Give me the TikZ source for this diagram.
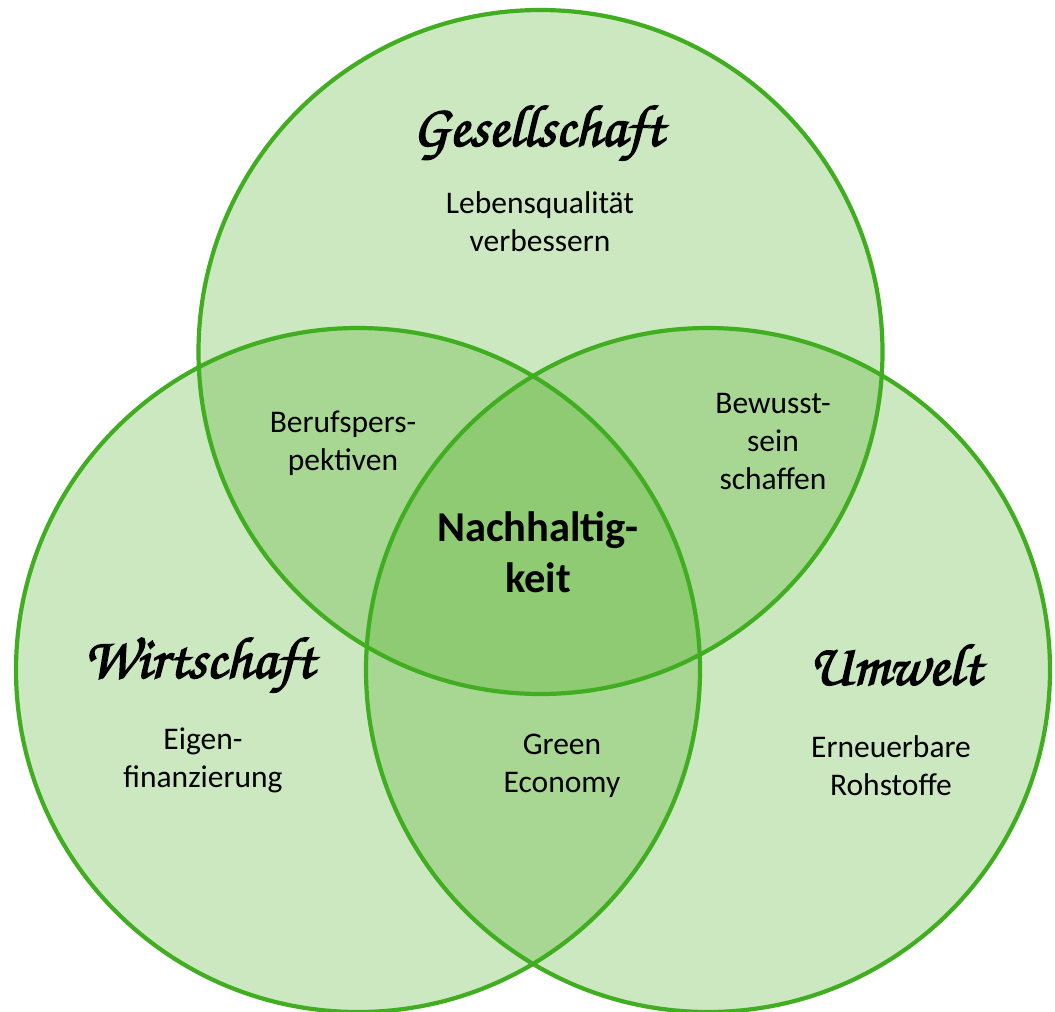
\documentclass[tikz,border=0pt]{standalone}
\usepackage{fontspec}
\setmainfont{Carlito}
\newfontfamily\brush[FakeBold=2.5]{texgyrechorus-mediumitalic.otf}
\definecolor{ringline}{RGB}{64,174,32}
\definecolor{ringfill}{RGB}{80,176,40}
\tikzset{
  ring/.style={fill=ringfill, fill opacity=0.29},
  rim/.style={draw=ringline, line width=4.2pt},
  label/.style={align=center, font=\fontsize{31.5}{38}\selectfont, text=black},
  title/.style={font=\brush\fontsize{59}{70}\selectfont, text=black},
  core/.style={align=center, font=\bfseries\fontsize{42.5}{51}\selectfont, text=black}
}
\begin{document}
\begin{tikzpicture}[x=1pt,y=-1pt]
\useasboundingbox (0,0) rectangle (1055,1012);
\coordinate (cG) at (540.5,352);
\coordinate (cW) at (358,670);
\coordinate (cU) at (708,670);
\fill[white] (0,0) rectangle (1055,1012);
\path[ring] (cG) circle (342pt);
\path[ring] (cW) circle (342pt);
\path[ring] (cU) circle (342pt);
\draw[rim] (cG) circle (342pt);
\draw[rim] (cW) circle (342pt);
\draw[rim] (cU) circle (342pt);
\node[title] (tG) at (538,133) {Gesellschaft};
\node[label] (lG) at (540,222) {Lebensqualität\\verbessern};
\node[title] (tW) at (199,665) {Wirtschaft};
\node[label] (lW) at (203,760) {Eigen-\\finanzierung};
\node[title] (tU) at (895,665) {Umwelt};
\node[label] (lU) at (891,766) {Erneuerbare\\Rohstoffe};
\node[label] (GW) at (343,443) {Berufspers-\\pektiven};
\node[label] (GU) at (773,442) {Bewusst-\\sein\\schaffen};
\node[label] (WU) at (562,766) {Green\\Economy};
\node[core] (N) at (538,552) {Nachhaltig-\\keit};
\end{tikzpicture}
\end{document}
